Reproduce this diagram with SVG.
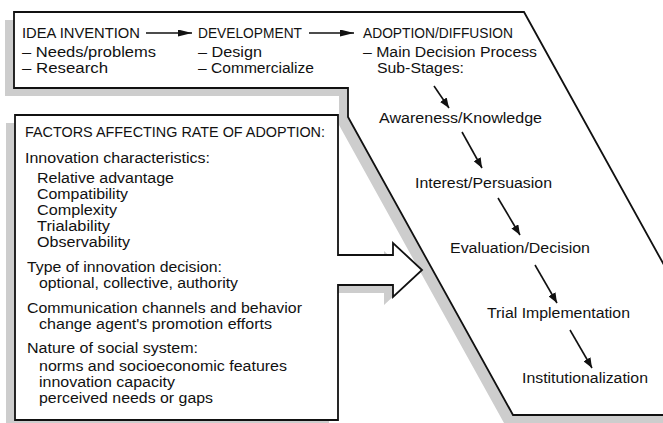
<svg xmlns="http://www.w3.org/2000/svg" width="663" height="423" viewBox="0 0 663 423">
<style>
text{font-family:"Liberation Sans",Arial,sans-serif;font-size:14px;fill:#111}
.box{fill:#fff;stroke:#111;stroke-width:1.8;stroke-linejoin:miter}
.shadow{fill:#cdcdcd;stroke:none}
.conn{stroke:#111;stroke-width:1.6;fill:none}
</style>
<defs>
<marker id="ah" markerUnits="userSpaceOnUse" markerWidth="10" markerHeight="8" refX="10" refY="4" orient="auto">
<path d="M0,0 L10,4 L0,8 z" fill="#111"/>
</marker>
<marker id="ahw" markerUnits="userSpaceOnUse" markerWidth="14" markerHeight="7" refX="14" refY="3.5" orient="auto">
<path d="M0,0 L14,3.5 L0,7 z" fill="#111"/>
</marker>
</defs>
<rect width="663" height="423" fill="#fff"/>
<!-- shadows -->
<polygon class="shadow" transform="translate(-9,8)" points="14,12 524,12 747,415 513,415 348,117 348,88 14,88"/>
<polygon class="shadow" transform="translate(-9,8)" points="15,115 338,115 338,255 393,255 393,243 422,270 393,297 393,285 338,285 338,420 15,420"/>
<g id="process-box">
<polygon class="box" points="14,12 524,12 747,415 513,415 348,117 348,88 14,88"/>
<text x="22" y="38" textLength="118" lengthAdjust="spacingAndGlyphs">IDEA INVENTION</text>
<text x="198" y="38" textLength="104" lengthAdjust="spacingAndGlyphs">DEVELOPMENT</text>
<text x="363" y="38" textLength="150" lengthAdjust="spacingAndGlyphs">ADOPTION/DIFFUSION</text>
<text x="22" y="57" textLength="134" lengthAdjust="spacingAndGlyphs">– Needs/problems</text>
<text x="22" y="73" textLength="86" lengthAdjust="spacingAndGlyphs">– Research</text>
<text x="198" y="57" textLength="64" lengthAdjust="spacingAndGlyphs">– Design</text>
<text x="198" y="73" textLength="116" lengthAdjust="spacingAndGlyphs">– Commercialize</text>
<text x="363" y="57" textLength="174" lengthAdjust="spacingAndGlyphs">– Main Decision Process</text>
<text x="377" y="73" textLength="87" lengthAdjust="spacingAndGlyphs">Sub-Stages:</text>
</g>
<g id="factors-box">
<polygon class="box" points="15,115 338,115 338,255 393,255 393,243 422,270 393,297 393,285 338,285 338,420 15,420"/>
<text x="25" y="137" textLength="300" lengthAdjust="spacingAndGlyphs">FACTORS AFFECTING RATE OF ADOPTION:</text>
<text x="25" y="163" textLength="185" lengthAdjust="spacingAndGlyphs">Innovation characteristics:</text>
<text x="37" y="183" textLength="137" lengthAdjust="spacingAndGlyphs">Relative advantage</text>
<text x="37" y="199" textLength="91" lengthAdjust="spacingAndGlyphs">Compatibility</text>
<text x="37" y="215" textLength="80" lengthAdjust="spacingAndGlyphs">Complexity</text>
<text x="37" y="231" textLength="73" lengthAdjust="spacingAndGlyphs">Trialability</text>
<text x="37" y="247" textLength="93" lengthAdjust="spacingAndGlyphs">Observability</text>
<text x="27" y="272" textLength="195" lengthAdjust="spacingAndGlyphs">Type of innovation decision:</text>
<text x="39" y="288" textLength="199" lengthAdjust="spacingAndGlyphs">optional, collective, authority</text>
<text x="27" y="313" textLength="275" lengthAdjust="spacingAndGlyphs">Communication channels and behavior</text>
<text x="39" y="329" textLength="233" lengthAdjust="spacingAndGlyphs">change agent's promotion efforts</text>
<text x="27" y="353" textLength="171" lengthAdjust="spacingAndGlyphs">Nature of social system:</text>
<text x="39" y="371" textLength="248" lengthAdjust="spacingAndGlyphs">norms and socioeconomic features</text>
<text x="39" y="387" textLength="136" lengthAdjust="spacingAndGlyphs">innovation capacity</text>
<text x="39" y="403" textLength="174" lengthAdjust="spacingAndGlyphs">perceived needs or gaps</text>
</g>
<g id="awareness"><text x="379" y="123" textLength="163" lengthAdjust="spacingAndGlyphs">Awareness/Knowledge</text></g>
<g id="interest"><text x="415" y="188" textLength="137" lengthAdjust="spacingAndGlyphs">Interest/Persuasion</text></g>
<g id="evaluation"><text x="450" y="253" textLength="140" lengthAdjust="spacingAndGlyphs">Evaluation/Decision</text></g>
<g id="trial"><text x="487" y="318" textLength="143" lengthAdjust="spacingAndGlyphs">Trial Implementation</text></g>
<g id="institutionalization"><text x="522" y="383" textLength="126" lengthAdjust="spacingAndGlyphs">Institutionalization</text></g>
<g id="connectors">
<line class="conn" x1="146" y1="33" x2="192" y2="33" marker-end="url(#ahw)"/>
<line class="conn" x1="309" y1="33" x2="354" y2="33" marker-end="url(#ahw)"/>
<line class="conn" x1="434" y1="86" x2="449" y2="108" marker-end="url(#ah)"/>
<line class="conn" x1="462" y1="132" x2="482" y2="168" marker-end="url(#ah)"/>
<line class="conn" x1="498" y1="198" x2="520" y2="235" marker-end="url(#ah)"/>
<line class="conn" x1="535" y1="265" x2="557" y2="303" marker-end="url(#ah)"/>
<line class="conn" x1="570" y1="330" x2="592" y2="368" marker-end="url(#ah)"/>
</g>
</svg>
